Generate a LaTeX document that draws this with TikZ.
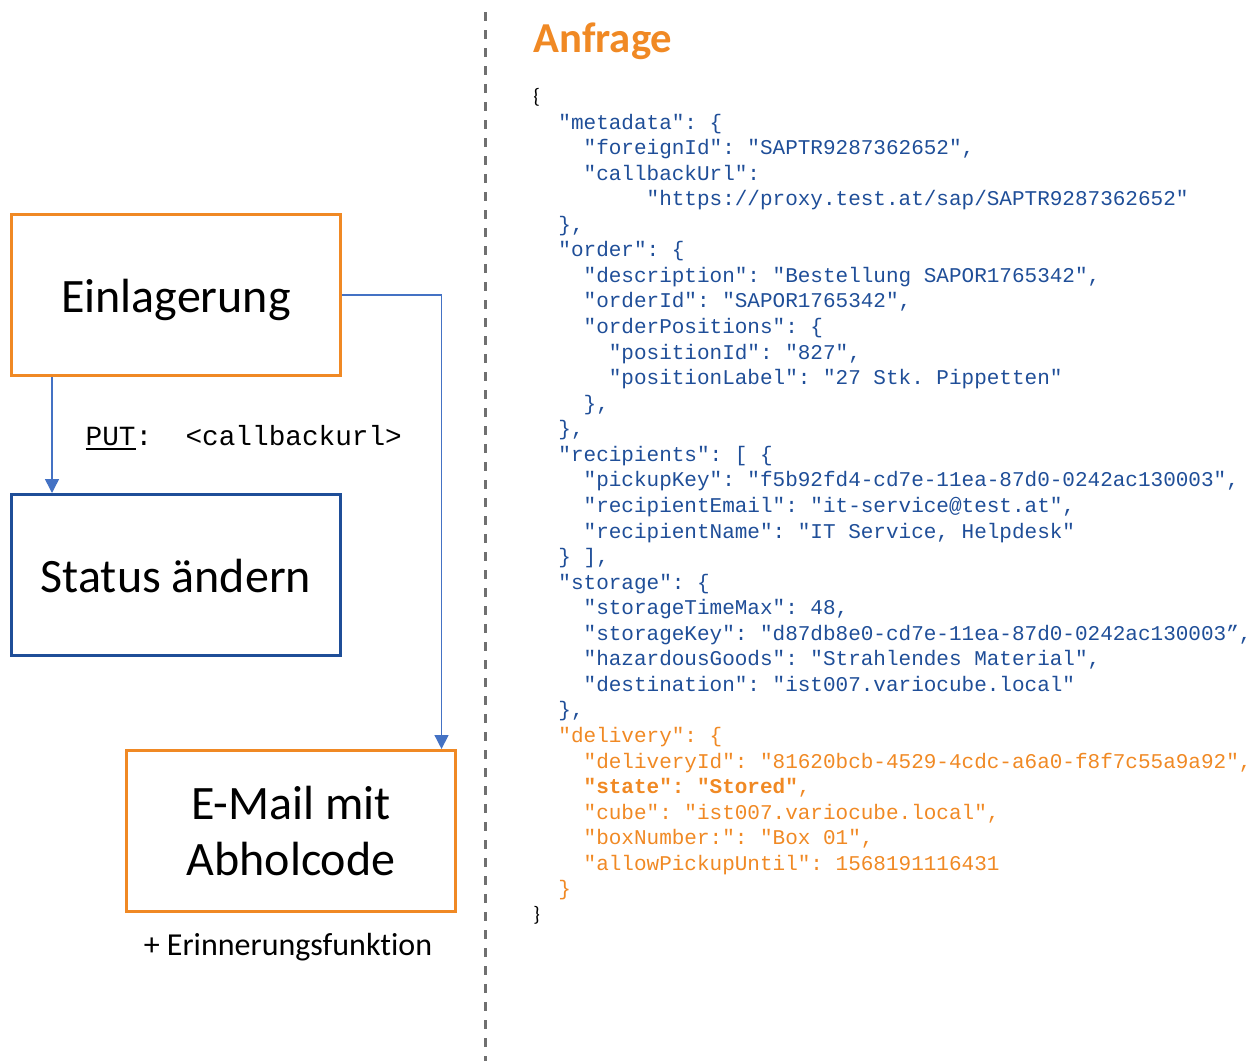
\documentclass[tikz,border=0pt]{standalone}
\usepackage{fontspec}
\setmainfont{Carlito}[Ligatures={TeX,NoCommon}]
\setmonofont{Liberation Mono}
\usetikzlibrary{arrows.meta,positioning}
\definecolor{vcorange}{RGB}{240,137,36}
\definecolor{vcblue}{RGB}{31,78,152}
\definecolor{arrowblue}{RGB}{68,114,196}
\definecolor{sepgray}{RGB}{112,112,112}
\newcommand{\ind}[1]{\hspace*{#1\dimexpr0.6em\relax}}
\newcommand{\dl}[1]{\textcolor{vcorange}{#1}}
\newcommand{\thickul}[1]{\setbox0\hbox{#1}\rlap{\rule[-4pt]{\wd0}{1.6pt}}\box0}
\newcommand{\sinktext}[2]{\raisebox{-#1}[\height][\depth]{#2}}
\frenchspacing

\begin{document}
\begin{tikzpicture}[x=0.75pt,y=-0.75pt,
    procbox/.style={draw,line width=2.25pt,minimum width=246.75pt,minimum height=120.75pt,
      inner sep=0pt,align=center,font=\fontsize{36}{42}\selectfont},
    arr/.style={arrowblue,line width=1.1pt,-{Triangle[length=10.5pt,width=10.5pt]}}]
  \useasboundingbox (0,0) rectangle (1253,1061);
  % left side: flow
  \node[procbox,draw=vcorange] (ein) at (176,295) {\sinktext{3.5pt}{Einlagerung}};
  \node[procbox,draw=vcblue] (stat) at (176,575) {\sinktext{1pt}{Status ändern}};
  \node[procbox,draw=vcorange] (mail) at (291,831) {E-Mail mit\\Abholcode};
  \node[anchor=base,font=\fontsize{24}{28}\selectfont] (remind) at (288,955) {+ Erinnerungsfunktion};
  \node[anchor=base west,font=\ttfamily\fontsize{20.8}{24}\selectfont] (put) at (81,445)
    {\thickul{PUT}:\ \ <callbackurl>};
  \draw[arr] ([xshift=31.5pt]ein.south west) -- ([xshift=31.5pt]stat.north west);
  \draw[arr] (ein.east) -| ([xshift=-11.6pt]mail.north east);
  % separator
  \draw[sepgray,line width=2.25pt,dash pattern=on 6.75pt off 6.75pt] (485,12) -- (485,1061);
  % right side: request
  \node[anchor=base west,text=vcorange,font=\bfseries\fontsize{32}{36}\selectfont] (title) at (529,52) {Anfrage};
  \node[anchor=base west,inner sep=0pt,align=left,text=vcblue,
    font=\ttfamily\fontsize{15.75}{19.17}\selectfont] (code) at (533,921.4) {%
    \textcolor{black}{\rmfamily\{}\\
    \ind{2}"metadata": \{\\
    \ind{4}"foreignId": "SAPTR9287362652",\\
    \ind{4}"callbackUrl":\\
    \ind{9}"https://proxy.test.at/sap/SAPTR9287362652"\\
    \ind{2}\},\\
    \ind{2}"order": \{\\
    \ind{4}"description": "Bestellung SAPOR1765342",\\
    \ind{4}"orderId": "SAPOR1765342",\\
    \ind{4}"orderPositions": \{\\
    \ind{6}"positionId": "827",\\
    \ind{6}"positionLabel": "27 Stk. Pippetten"\\
    \ind{4}\},\\
    \ind{2}\},\\
    \ind{2}"recipients": [ \{\\
    \ind{4}"pickupKey": "f5b92fd4-cd7e-11ea-87d0-0242ac130003",\\
    \ind{4}"recipientEmail": "it-service@test.at",\\
    \ind{4}"recipientName": "IT Service, Helpdesk"\\
    \ind{2}\} ],\\
    \ind{2}"storage": \{\\
    \ind{4}"storageTimeMax": 48,\\
    \ind{4}"storageKey": "d87db8e0-cd7e-11ea-87d0-0242ac130003”,\\
    \ind{4}"hazardousGoods": "Strahlendes Material",\\
    \ind{4}"destination": "ist007.variocube.local"\\
    \ind{2}\},\\
    \dl{\ind{2}"delivery": \{}\\
    \dl{\ind{4}"deliveryId": "81620bcb-4529-4cdc-a6a0-f8f7c55a9a92",}\\
    \dl{\ind{4}\textbf{"state": "Stored"},}\\
    \dl{\ind{4}"cube": "ist007.variocube.local",}\\
    \dl{\ind{4}"boxNumber:": "Box 01",}\\
    \dl{\ind{4}"allowPickupUntil": 1568191116431}\\
    \dl{\ind{2}\}}\\
    \textcolor{black}{\rmfamily\}}};
\end{tikzpicture}
\end{document}
